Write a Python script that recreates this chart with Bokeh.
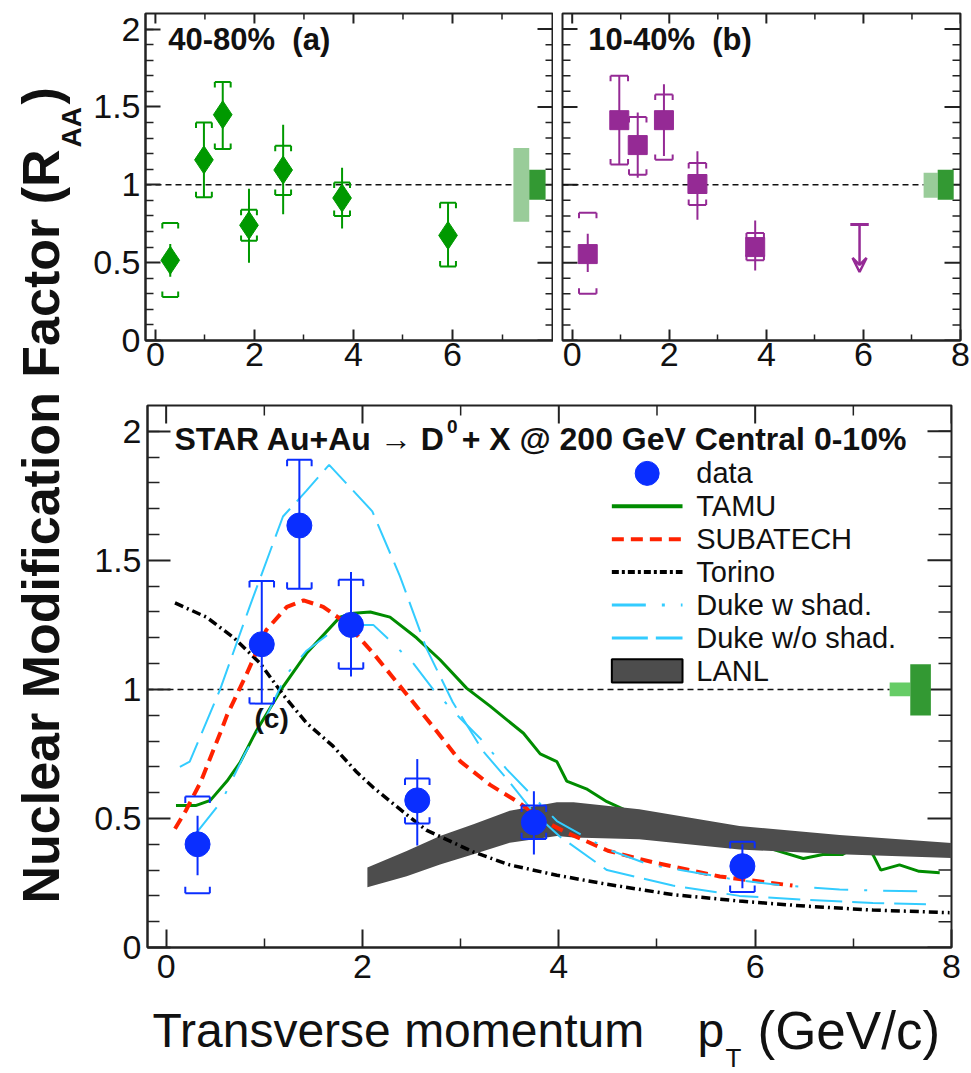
import numpy as np
from bokeh.plotting import figure
from bokeh.layouts import row, column
from bokeh.models import Range1d, LinearAxis, FixedTicker, Arrow, VeeHead
from bokeh.core.properties import value
from bokeh.embed import file_html
from bokeh.resources import INLINE

FONT = "Liberation Sans"

# ---------------- measured D0 R_AA ----------------
# (a) 40-80 %
pt_a = [0.30, 0.98, 1.36, 1.89, 2.58, 3.77, 5.91]
raa_a = [0.515, 1.16, 1.45, 0.74, 1.095, 0.915, 0.675]
stat_lo_a = [0.41, 0.92, 1.23, 0.50, 0.81, 0.72, 0.475]
stat_hi_a = [0.62, 1.40, 1.66, 0.975, 1.385, 1.11, 0.885]
sys_lo_a = [0.28, 0.92, 1.23, 0.64, 0.935, 0.80, 0.475]
sys_hi_a = [0.755, 1.40, 1.66, 0.84, 1.25, 1.015, 0.885]

# (b) 10-40 %
pt_b = [0.32, 0.97, 1.35, 1.89, 2.58, 3.77]
raa_b = [0.555, 1.415, 1.255, 1.415, 1.005, 0.60]
stat_lo_b = [0.44, 1.13, 1.045, 1.185, 0.775, 0.45]
stat_hi_b = [0.685, 1.70, 1.465, 1.645, 1.215, 0.77]
sys_lo_b = [0.30, 1.13, 1.065, 1.16, 0.87, 0.515]
sys_hi_b = [0.82, 1.70, 1.435, 1.58, 1.14, 0.69]
ul_pt_b = [5.92]
ul_raa_b = [0.745]
ul_arrow_to_b = [0.44]

# (c) 0-10 %
pt_c = [0.32, 0.974, 1.357, 1.883, 2.558, 3.746, 5.87]
raa_c = [0.40, 1.175, 1.635, 1.25, 0.57, 0.485, 0.315]
stat_lo_c = [0.28, 0.945, 1.39, 1.05, 0.395, 0.36, 0.23]
stat_hi_c = [0.51, 1.42, 1.89, 1.455, 0.73, 0.605, 0.40]
sys_lo_c = [0.21, 0.945, 1.39, 1.08, 0.48, 0.42, 0.215]
sys_hi_c = [0.585, 1.42, 1.89, 1.425, 0.655, 0.55, 0.41]

# global normalisation uncertainties around unity: (light band, dark band)
norm_a = [(0.763, 1.237), (0.904, 1.096)]
norm_b = [(0.917, 1.077), (0.904, 1.096)]
norm_c = [(0.973, 1.027), (0.899, 1.097)]

# ---------------- model curves (central 0-10 %) ----------------
tamu_pt = [0.10, 0.30, 0.45, 0.62, 0.75, 0.92, 1.19, 1.43, 1.77, 1.91, 2.08, 2.28,
           2.55, 2.79, 3.06, 3.30, 3.64, 3.81, 3.98, 4.08, 4.28, 4.49, 4.75, 5.00,
           5.50, 6.00, 6.18, 6.49, 6.69, 6.89, 7.06, 7.20, 7.28, 7.47, 7.67, 7.88]
tamu_raa = [0.55, 0.55, 0.57, 0.645, 0.715, 0.84, 1.01, 1.14, 1.28, 1.295, 1.30, 1.28,
            1.20, 1.115, 1.005, 0.935, 0.83, 0.75, 0.72, 0.645, 0.615, 0.565, 0.52, 0.48,
            0.43, 0.40, 0.38, 0.345, 0.36, 0.36, 0.40, 0.36, 0.30, 0.32, 0.295, 0.29]

subatech_pt = [0.09, 0.20, 0.35, 0.55, 0.62, 0.82, 1.02, 1.23, 1.40, 1.60, 1.84, 2.11,
               2.42, 2.72, 3.00, 3.30, 3.60, 3.85, 4.08, 4.50, 4.96, 5.64, 6.38]
subatech_raa = [0.46, 0.53, 0.64, 0.83, 0.90, 1.06, 1.23, 1.32, 1.345, 1.32, 1.255, 1.14,
                0.995, 0.855, 0.72, 0.63, 0.56, 0.49, 0.445, 0.375, 0.33, 0.275, 0.24]

torino_pt = [0.09, 0.41, 0.69, 0.96, 1.19, 1.43, 1.70, 1.94, 2.11, 2.40, 2.65, 3.13,
             3.50, 3.98, 4.49, 5.16, 5.84, 6.52, 7.20, 7.98]
torino_raa = [1.335, 1.28, 1.20, 1.10, 0.98, 0.87, 0.78, 0.68, 0.62, 0.53, 0.455, 0.37,
              0.32, 0.28, 0.245, 0.205, 0.18, 0.16, 0.145, 0.135]

duke_w_pt = [0.30, 0.57, 0.80, 1.00, 1.23, 1.43, 1.64, 1.84, 2.11, 2.25, 2.52, 2.72,
             2.99, 3.20, 3.47, 3.75, 3.98, 4.50, 4.93, 5.40, 5.84, 6.30, 6.86, 7.30, 7.74]
duke_w_raa = [0.44, 0.57, 0.75, 0.88, 1.06, 1.15, 1.21, 1.25, 1.25, 1.20, 1.10, 1.00,
              0.89, 0.81, 0.69, 0.58, 0.49, 0.38, 0.32, 0.29, 0.26, 0.24, 0.225, 0.22, 0.217]

duke_wo_pt = [0.14, 0.24, 0.55, 0.85, 1.19, 1.43, 1.66, 2.10, 2.38, 2.65, 2.92, 3.23,
              3.50, 3.75, 4.01, 4.49, 5.16, 5.84, 6.52, 7.20, 7.74]
duke_wo_raa = [0.70, 0.72, 1.00, 1.32, 1.67, 1.77, 1.87, 1.69, 1.44, 1.16, 0.95, 0.76,
               0.64, 0.52, 0.43, 0.30, 0.24, 0.20, 0.185, 0.172, 0.168]

lanl_pt = [2.05, 2.45, 2.79, 3.13, 3.50, 3.98, 4.15, 4.82, 5.84, 6.86, 8.00]
lanl_hi = [0.31, 0.374, 0.432, 0.478, 0.53, 0.5625, 0.5625, 0.536, 0.471, 0.436, 0.405]
lanl_lo = [0.233, 0.276, 0.322, 0.361, 0.406, 0.432, 0.426, 0.419, 0.380, 0.361, 0.347]

# tick positions
x_major = [0, 2, 4, 6, 8]
x_minor = [1, 3, 5, 7]
y_major = [0, 0.5, 1, 1.5, 2]
y_minor = [0.1, 0.2, 0.3, 0.4, 0.6, 0.7, 0.8, 0.9, 1.1, 1.2, 1.3, 1.4,
           1.6, 1.7, 1.8, 1.9, 2.0]

GREEN = "#009900"
PURPLE = "#952a95"
BLUE = "#0a2eff"
RED = "#ff2200"
SKY = "#33ccff"
LANL_GREY = "#4d4d4d"
AXIS = "#222222"
INK = "#111111"

TITLE_W = 86  # width of the strip holding the vertical title


def make_panel(width, height, xr, yr, borders):
    left, right, top, bottom = borders
    p = figure(width=width, height=height, x_range=Range1d(*xr), y_range=Range1d(*yr),
               x_axis_type=None, y_axis_type=None, toolbar_location=None,
               output_backend="svg", min_border_left=left, min_border_right=right,
               min_border_top=top, min_border_bottom=bottom)
    p.outline_line_color = AXIS
    p.outline_line_width = 2
    p.background_fill_color = "white"
    p.border_fill_color = "white"
    # pixels per data unit, used for tick lengths drawn inside the frame
    p.tags = [(width - left - right) / (xr[1] - xr[0]),
              (height - top - bottom) / (yr[1] - yr[0])]
    return p


def labelled_axis(p, side, major, minor, L, l, stand):
    ax = LinearAxis(ticker=FixedTicker(ticks=major, minor_ticks=minor))
    ax.axis_line_color = AXIS
    ax.axis_line_width = 2
    ax.major_tick_in = L
    ax.major_tick_out = 0
    ax.minor_tick_in = l
    ax.minor_tick_out = 0
    ax.major_tick_line_color = AXIS
    ax.minor_tick_line_color = AXIS
    ax.major_tick_line_width = 2
    ax.minor_tick_line_width = 1.5
    ax.major_label_text_font = FONT
    ax.major_label_text_color = INK
    ax.major_label_text_font_size = "34px"
    ax.major_label_standoff = stand
    p.add_layout(ax, side)


def inner_ticks(p, side, major, minor, L, l):
    """Tick marks along an unlabelled frame edge."""
    sx, sy = p.tags
    xr, yr = p.x_range, p.y_range
    for ticks, length, w in ((major, L, 2), (minor, l, 1.5)):
        t = np.asarray(ticks, float)
        if side == "above":
            y0 = np.full_like(t, yr.end)
            p.segment(x0=t, y0=y0, x1=t, y1=y0 - length / sy, line_color=AXIS, line_width=w)
        elif side == "right":
            x0 = np.full_like(t, xr.end)
            p.segment(x0=x0, y0=t, x1=x0 - length / sx, y1=t, line_color=AXIS, line_width=w)
        elif side == "left":
            x0 = np.full_like(t, xr.start)
            p.segment(x0=x0, y0=t, x1=x0 + length / sx, y1=t, line_color=AXIS, line_width=w)


def draw_errors(p, x, slo, shi, ylo, yhi, color, half_w, cap):
    x = np.asarray(x, float)
    # statistical error bars
    p.segment(x0=x, y0=slo, x1=x, y1=shi, line_color=color, line_width=2)
    # systematic brackets
    ylo = np.asarray(ylo, float)
    yhi = np.asarray(yhi, float)
    for yb, sgn in ((yhi, -1.0), (ylo, 1.0)):
        p.segment(x0=x - half_w, y0=yb, x1=x + half_w, y1=yb, line_color=color, line_width=2)
        p.segment(x0=x - half_w, y0=yb, x1=x - half_w, y1=yb + sgn * cap,
                  line_color=color, line_width=2)
        p.segment(x0=x + half_w, y0=yb, x1=x + half_w, y1=yb + sgn * cap,
                  line_color=color, line_width=2)


def draw_norm(p, norm, x_edges, colors):
    (l_lo, l_hi), (d_lo, d_hi) = norm
    p.quad(left=[x_edges[0]], right=[x_edges[1]], bottom=[l_lo], top=[l_hi],
           fill_color=colors[0], line_color=None)
    p.quad(left=[x_edges[1]], right=[x_edges[2]], bottom=[d_lo], top=[d_hi],
           fill_color=colors[1], line_color=None)


def unity_line(p, x0, x1):
    p.line(x=[x0, x1], y=[1, 1], line_color=INK, line_width=1.5, line_dash="6 4")


def label(p, x, y, txt, size, bold=True, align="left", angle=0.0):
    p.text(x=[x], y=[y], text=[txt], text_font=value(FONT), text_font_size=size,
           text_font_style="bold" if bold else "normal", text_align=align,
           text_baseline="middle", text_color=INK, angle=angle)


# ---------------- panel (a) ----------------
pa = make_panel(145 - TITLE_W + 408, 387, (-0.2, 8.04), (0, 2.1), (145 - TITLE_W, 0, 13, 47))
labelled_axis(pa, "below", [0, 2, 4, 6], x_minor, 11, 6, 2)
labelled_axis(pa, "left", y_major, y_minor, 15, 8, 5)
inner_ticks(pa, "above", [0, 2, 4, 6], x_minor, 10, 6)
inner_ticks(pa, "right", y_major, y_minor, 16, 8)
unity_line(pa, -0.2, 7.23)
draw_norm(pa, norm_a, (7.23, 7.55, 7.88), ("#99cc99", "#339933"))
draw_errors(pa, pt_a, stat_lo_a, stat_hi_a, sys_lo_a, sys_hi_a, GREEN, 0.16, 0.035)
pa.scatter(pt_a, raa_a, marker="diamond", size=28, fill_color=GREEN, line_color=GREEN)
label(pa, 0.26, 1.933, "40-80%\u00a0\u00a0(a)", "31px")

# ---------------- panel (b) ----------------
pb = make_panel(418, 387, (-0.2, 8.0), (0, 2.1), (9, 11, 13, 47))
labelled_axis(pb, "below", x_major, x_minor, 11, 6, 2)
inner_ticks(pb, "left", y_major, y_minor, 15, 8)
inner_ticks(pb, "above", x_major, x_minor, 10, 6)
inner_ticks(pb, "right", y_major, y_minor, 16, 8)
unity_line(pb, -0.2, 7.24)
draw_norm(pb, norm_b, (7.24, 7.53, 7.86), ("#99cc99", "#339933"))
draw_errors(pb, pt_b, stat_lo_b, stat_hi_b, sys_lo_b, sys_hi_b, PURPLE, 0.18, 0.035)
pb.scatter(pt_b, raa_b, marker="square", size=19, fill_color=PURPLE, line_color=PURPLE)
ul_x = np.asarray(ul_pt_b)
pb.segment(x0=ul_x - 0.19, y0=ul_raa_b, x1=ul_x + 0.19, y1=ul_raa_b,
           line_color=PURPLE, line_width=3)
pb.add_layout(Arrow(end=VeeHead(size=14, line_color=PURPLE, line_width=2.5, fill_color=None),
                    x_start=ul_pt_b[0], y_start=ul_raa_b[0], x_end=ul_pt_b[0],
                    y_end=ul_arrow_to_b[0], line_color=PURPLE, line_width=2.5))
label(pb, 0.33, 1.933, "10-40%\u00a0\u00a0(b)", "31px")

# ---------------- panel (c) ----------------
C_LEFT = 147 - TITLE_W
pc = make_panel(C_LEFT + 804 + 20, 610, (-0.19, 8.0), (0, 2.1), (C_LEFT, 20, 18, 50))
labelled_axis(pc, "below", x_major, x_minor, 18, 9, 7)
labelled_axis(pc, "left", y_major, y_minor, 23, 12, 6)
inner_ticks(pc, "above", x_major, x_minor, 18, 10)
inner_ticks(pc, "right", y_major, y_minor, 24, 13)
unity_line(pc, -0.19, 7.37)
draw_norm(pc, norm_c, (7.37, 7.58, 7.79), ("#66cc66", "#339933"))

pc.line(tamu_pt, tamu_raa, line_color="#008c00", line_width=3)
pc.varea(x=lanl_pt, y1=lanl_lo, y2=lanl_hi, fill_color=LANL_GREY)
pc.line(torino_pt, torino_raa, line_color="black", line_width=3.5, line_dash="9 4 2 4")
pc.line(subatech_pt, subatech_raa, line_color=RED, line_width=4, line_dash="12 7")
pc.line(duke_w_pt, duke_w_raa, line_color=SKY, line_width=2, line_dash="34 16 3 16")
pc.line(duke_wo_pt, duke_wo_raa, line_color=SKY, line_width=2, line_dash="32 10")

draw_errors(pc, pt_c, stat_lo_c, stat_hi_c, sys_lo_c, sys_hi_c, BLUE, 0.125, 0.025)
pc.scatter(pt_c, raa_c, marker="circle", size=25, fill_color=BLUE, line_color=BLUE)

# title line of panel (c)
label(pc, 2.84, 1.969, "STAR Au+Au \u2192 D", "32px", align="right")
label(pc, 2.86, 2.017, "0", "19px")
label(pc, 3.01, 1.969, "+ X @ 200 GeV Central 0-10%", "32px")
label(pc, 0.90, 0.888, "(c)", "28px")

# legend
leg_x0, leg_x1, leg_mark, leg_text = 4.54, 5.26, 4.90, 5.40
leg_top, leg_step = 1.837, 0.1275
entries = ["data", "TAMU", "SUBATECH", "Torino", "Duke w shad.", "Duke w/o shad.", "LANL"]
rows_y = [leg_top - i * leg_step for i in range(len(entries))]
for name, yy in zip(entries, rows_y):
    label(pc, leg_text, yy, name, "29px", bold=False)
pc.scatter([leg_mark], [rows_y[0]], marker="circle", size=24, fill_color=BLUE, line_color=BLUE)
pc.line([leg_x0, leg_x1], [rows_y[1]] * 2, line_color="#008c00", line_width=4)
pc.line([leg_x0, leg_x1], [rows_y[2]] * 2, line_color=RED, line_width=4, line_dash="12 7")
pc.line([leg_x0, leg_x1], [rows_y[3]] * 2, line_color="black", line_width=4, line_dash="7 3 3 3")
pc.line([leg_x0, leg_x1], [rows_y[4]] * 2, line_color=SKY, line_width=3, line_dash="34 16 3 16")
pc.line([leg_x0, leg_x1], [rows_y[5]] * 2, line_color=SKY, line_width=3, line_dash="36 8")
pc.quad(left=[leg_x0], right=[leg_x1], bottom=[rows_y[6] - 0.045], top=[rows_y[6] + 0.045],
        fill_color=LANL_GREY, line_color="black", line_width=2)

# ---------------- shared axis titles ----------------
# vertical title: coordinates are page pixels (x from the left, y from the bottom)
ytitle = figure(width=TITLE_W, height=1073, x_range=Range1d(0, TITLE_W),
                y_range=Range1d(0, 1073), x_axis_type=None, y_axis_type=None,
                toolbar_location=None, output_backend="svg", min_border=0)
ytitle.outline_line_color = None
label(ytitle, 40, 170, "Nuclear Modification Factor (R", "52px", angle=np.pi / 2)
label(ytitle, 71, 926, "AA", "28px", angle=np.pi / 2)
label(ytitle, 40, 969, ")", "52px", angle=np.pi / 2)

# horizontal title: x in page pixels, y from the page bottom
xtitle = figure(width=C_LEFT + 804 + 20, height=76, x_range=Range1d(147, 951),
                y_range=Range1d(0, 76), x_axis_type=None, y_axis_type=None,
                toolbar_location=None, output_backend="svg", min_border_left=C_LEFT,
                min_border_right=20, min_border_top=0, min_border_bottom=0)
xtitle.outline_line_color = None
label(xtitle, 152, 43, "Transverse momentum", "48px", bold=False)
label(xtitle, 697, 43, "p", "48px", bold=False)
label(xtitle, 725, 16, "T", "26px", bold=False)
label(xtitle, 757, 43, "(GeV/c)", "53px", bold=False)

layout = row(ytitle, column(row(pa, pb), pc, xtitle))

open("out.html", "w").write(file_html(layout, INLINE))
